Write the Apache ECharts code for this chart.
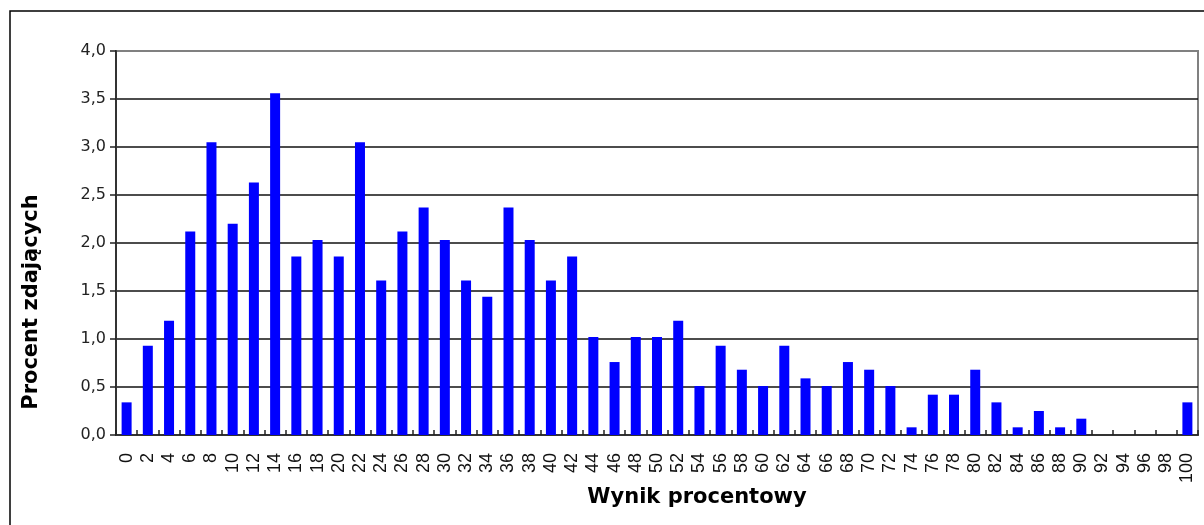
<!DOCTYPE html>
<html>
<head>
<meta charset="utf-8">
<script src="https://cdn.jsdelivr.net/npm/echarts@6/dist/echarts.min.js"></script>
<style>html,body{margin:0;padding:0;background:#fff;}#c{width:1204px;height:525px;}</style>
</head>
<body>
<div id="c"></div>
<script>
const categories = ['0','2','4','6','8','10','12','14','16','18','20','22','24','26','28','30','32','34','36','38','40','42','44','46','48','50','52','54','56','58','60','62','64','66','68','70','72','74','76','78','80','82','84','86','88','90','92','94','96','98','100'];
const values = [0.34,0.93,1.19,2.12,3.05,2.20,2.63,3.56,1.86,2.03,1.86,3.05,1.61,2.12,2.37,2.03,1.61,1.44,2.37,2.03,1.61,1.86,1.02,0.76,1.02,1.02,1.19,0.51,0.93,0.68,0.51,0.93,0.59,0.51,0.76,0.68,0.51,0.08,0.42,0.42,0.68,0.34,0.08,0.25,0.08,0.17,0,0,0,0,0.34];
const xTitle = 'Wynik procentowy';
const yTitle = 'Procent zdających';

const chart = echarts.init(document.getElementById('c'), null, {renderer:'canvas'});
chart.setOption({
  backgroundColor: '#ffffff',
  animation: false,
  grid: {left:116, right:6, top:51, bottom:90, show:true, borderColor:'#808080', borderWidth:2, backgroundColor:'transparent'},
  graphic: [
    {type:'rect', shape:{x:10, y:11, width:1400, height:700}, style:{fill:'none', stroke:'#000', lineWidth:1.5}, z:-10},
    {type:'text', x:32, y:302, rotation:Math.PI/2, style:{text:yTitle, font:'bold 21px "DejaVu Sans"', fill:'#000', textAlign:'center', textVerticalAlign:'middle'}},
    {type:'text', x:697, y:498, style:{text:xTitle, font:'bold 21px "DejaVu Sans"', fill:'#000', textAlign:'center', textVerticalAlign:'middle'}}
  ],
  xAxis: {
    type:'category', data:categories, boundaryGap:true,
    axisLine:{show:true, lineStyle:{color:'#333', width:2}},
    axisTick:{show:true, inside:true, length:5, interval:0, alignWithLabel:false, lineStyle:{color:'#222', width:1.5}},
    axisLabel:{interval:0, rotate:90, margin:18, fontFamily:'"Liberation Sans", Arial', fontSize:18, color:'#111'},
    splitLine:{show:false}
  },
  yAxis: {
    type:'value', min:0, max:4, interval:0.5,
    axisLine:{show:true, lineStyle:{color:'#333', width:2}},
    axisTick:{show:true, inside:false, length:6, lineStyle:{color:'#222', width:1.5}},
    axisLabel:{margin:10, fontFamily:'"DejaVu Sans"', fontSize:16, color:'#222', formatter: v => v.toFixed(1).replace('.', ',')},
    splitLine:{show:true, showMaxLine:false, showMinLine:false, lineStyle:{color:'#111', width:1.5}}
  },
  series: [{
    type:'bar', data:values, barWidth:10,
    itemStyle:{color:'#0000ff'}
  }]
});
</script>
</body>
</html>
